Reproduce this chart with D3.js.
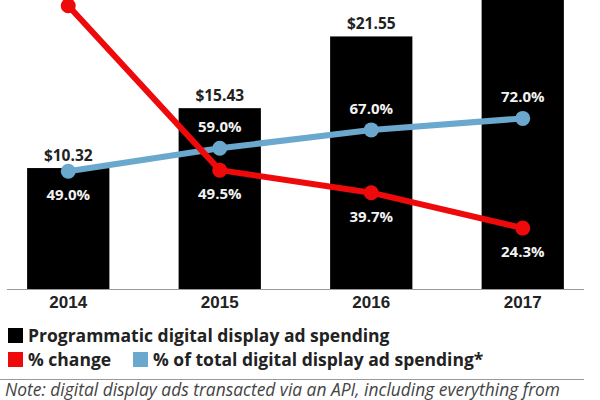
<!DOCTYPE html>
<html lang="en">
<head>
  <meta charset="utf-8"/>
  <title>Programmatic digital display ad spending</title>
  <script src="https://d3js.org/d3.v7.min.js"></script>
  <style>
    body { margin: 0; background: #fff; }
    svg { display: block; font-family: "Open Sans", sans-serif; }
    .val { font-size: 15.5px; font-weight: 700; fill: #222; }
    .pct { font-size: 15px; font-weight: 700; fill: #f2f2f2; }
    .year text { font-size: 17px; font-weight: 700; fill: #222; }
    .legend { font-size: 17.5px; font-weight: 700; fill: #222; }
    .note { font-size: 17.4px; font-style: italic; fill: #444; }
  </style>
</head>
<body>
<svg id="chart" width="600" height="400"></svg>

<script>
  // data
  const years = ["2014", "2015", "2016", "2017"];
  const spending = [10.32, 15.43, 21.55, 26.79];      // billions
  const pctChange = [121.0, 49.5, 39.7, 24.3];        // % change
  const pctOfTotal = [49.0, 59.0, 67.0, 72.0];        // % of total digital display

  const red = "#ee0a0a";
  const blue = "#6ba8cd";

  const svg = d3.select("#chart");
  const baseY = 289;

  const x = d3.scaleBand()
    .domain(years)
    .range([-7.5, 598.5])
    .paddingInner(0.457)
    .paddingOuter(0.2285);

  const yBar = d3.scaleLinear().domain([0, 25]).range([baseY, baseY - 293]);
  const yPct = d3.scaleLinear().domain([0, 100]).range([284, 54]);

  const cx = d => x(d) + x.bandwidth() / 2;

  // bars
  svg.append("g").selectAll("rect")
    .data(years)
    .join("rect")
    .attr("x", d => x(d))
    .attr("y", (d, i) => yBar(spending[i]))
    .attr("width", x.bandwidth())
    .attr("height", (d, i) => baseY - yBar(spending[i]))
    .attr("fill", "#000");

  // value labels above bars (the 2017 one falls above the top edge, like in the crop)
  const valData = years.map((d, i) => ({ year: d, v: spending[i], y: yBar(spending[i]) - 7 }))
    .filter(d => d.y > 14);
  svg.append("g").selectAll("text")
    .data(valData)
    .join("text")
    .attr("class", "val")
    .attr("x", d => cx(d.year))
    .attr("y", d => d.y)
    .attr("text-anchor", "middle")
    .text(d => "$" + d.v.toFixed(2));

  // baseline + years
  svg.append("line")
    .attr("x1", 7).attr("x2", 584)
    .attr("y1", baseY + 0.5).attr("y2", baseY + 0.5)
    .attr("stroke", "#9a9a9a").attr("stroke-width", 1);

  const axis = svg.append("g")
    .attr("class", "year")
    .attr("transform", `translate(0,${baseY})`)
    .call(d3.axisBottom(x).tickSize(0).tickPadding(7));
  axis.select(".domain").remove();

  // lines
  function drawSeries(vals, color) {
    const line = d3.line()
      .x((d, i) => cx(years[i]))
      .y(d => yPct(d));
    svg.append("path")
      .datum(vals)
      .attr("d", line)
      .attr("fill", "none")
      .attr("stroke", color)
      .attr("stroke-width", 6)
      .attr("stroke-linejoin", "round");
    svg.append("g").selectAll("circle")
      .data(vals)
      .join("circle")
      .attr("cx", (d, i) => cx(years[i]))
      .attr("cy", d => yPct(d))
      .attr("r", 7.5)
      .attr("fill", color);
  }
  drawSeries(pctOfTotal, blue);
  drawSeries(pctChange, red);

  // percentage labels: blue above (first one below), red below
  function pctLabels(vals, below) {
    const items = vals.map((v, i) => ({
      year: years[i], v: v,
      y: below(i) ? yPct(v) + 29 : yPct(v) - 16
    })).filter(d => d.y > 14);
    svg.append("g").selectAll("text")
      .data(items)
      .join("text")
      .attr("class", "pct")
      .attr("x", d => cx(d.year))
      .attr("y", d => d.y)
      .attr("text-anchor", "middle")
      .text(d => d.v.toFixed(1) + "%");
  }
  pctLabels(pctOfTotal, i => i === 0);
  pctLabels(pctChange, i => i !== 0);

  // legend
  const legend = [
    { label: "Programmatic digital display ad spending", color: "#000", x: 8, y: 328 },
    { label: "% change", color: red, x: 8, y: 352 },
    { label: "% of total digital display ad spending*", color: blue, x: 133, y: 352 }
  ];
  const lg = svg.append("g").selectAll("g").data(legend).join("g");
  lg.append("rect")
    .attr("x", d => d.x).attr("y", d => d.y)
    .attr("width", 15).attr("height", 15)
    .attr("fill", d => d.color);
  lg.append("text")
    .attr("class", "legend")
    .attr("x", d => d.x + 20)
    .attr("y", d => d.y + 13.5)
    .text(d => d.label);

  svg.append("line")
    .attr("x1", 0).attr("x2", 584)
    .attr("y1", 379.5).attr("y2", 379.5)
    .attr("stroke", "#9a9a9a");

  svg.append("text")
    .attr("class", "note")
    .attr("x", 5)
    .attr("y", 396)
    .text("Note: digital display ads transacted via an API, including everything from");
</script>
</body>
</html>
